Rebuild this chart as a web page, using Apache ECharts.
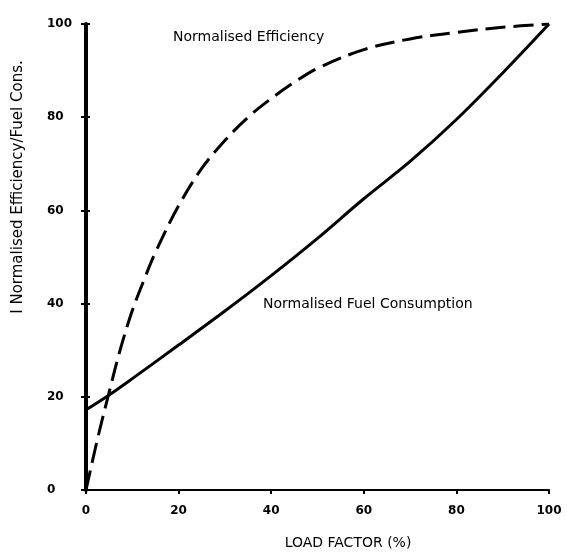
<!DOCTYPE html>
<html>
<head>
<meta charset="utf-8">
<script src="https://cdn.jsdelivr.net/npm/echarts@6/dist/echarts.min.js"></script>
<style>
  html, body { margin: 0; padding: 0; background: #fff; }
  #chart { width: 567px; height: 554px; }
</style>
</head>
<body>
<div id="chart"></div>
<script>
  // load factor (%) vs normalised values
  var effLoad = [0, 2.5, 5, 7.5, 10, 12.5, 15, 20, 25, 30, 35, 40, 45, 50, 60, 70, 80, 90, 100];
  var efficiency = [0, 11, 21, 30.5, 38.5, 45, 51, 61, 69, 75, 80, 84, 87.5, 90.5, 94.5, 96.8, 98.2, 99.3, 100];

  var fuelLoad = [0, 5, 10, 20, 30, 40, 50, 60, 70, 80, 90, 100];
  var fuelCons = [17.2, 20.4, 23.9, 31.1, 38.4, 46, 54, 62.5, 70.5, 79.5, 89.5, 100];

  var tickMin = 0, tickMax = 100, tickStep = 20;

  function pairs(xs, ys) {
    return xs.map(function (x, i) { return [x, ys[i]]; });
  }

  var font = '"DejaVu Sans", Verdana, sans-serif';
  var chart = echarts.init(document.getElementById('chart'), null, { renderer: 'canvas' });

  var baseX = {
    type: 'value', min: tickMin, max: tickMax, interval: tickStep,
    splitLine: { show: false }
  };
  var baseY = {
    type: 'value', min: tickMin, max: tickMax, interval: tickStep,
    splitLine: { show: false }
  };

  chart.setOption({
    backgroundColor: '#fff',
    animation: false,
    grid: { left: 86, right: 18, top: 24, bottom: 64 },
    xAxis: [
      Object.assign({}, baseX, {
        axisLine: { lineStyle: { color: '#000', width: 2 } },
        axisTick: { length: 4, lineStyle: { color: '#000', width: 2 } },
        axisLabel: { color: '#000', fontFamily: font, fontSize: 12, fontWeight: 'bold', margin: 15 }
      }),
      Object.assign({}, baseX, {
        axisLine: { show: false },
        axisTick: { inside: true, length: 4, lineStyle: { color: '#000', width: 2 } },
        axisLabel: { show: false }
      })
    ],
    yAxis: [
      Object.assign({}, baseY, {
        axisLine: { lineStyle: { color: '#000', width: 4 } },
        axisTick: { length: 5, lineStyle: { color: '#000', width: 2 } },
        axisLabel: { color: '#000', fontFamily: font, fontSize: 12, fontWeight: 'bold', align: 'left', margin: 39 }
      }),
      Object.assign({}, baseY, {
        position: 'left',
        axisLine: { show: false },
        axisTick: { inside: true, length: 4, lineStyle: { color: '#000', width: 2 } },
        axisLabel: { show: false }
      })
    ],
    graphic: [
      {
        type: 'text', left: 173, top: 30,
        style: { text: 'Normalised Efficiency', font: '14px ' + font, fill: '#000' }
      },
      {
        type: 'text', left: 263, top: 297,
        style: { text: 'Normalised Fuel Consumption', font: '14px ' + font, fill: '#000' }
      },
      {
        type: 'text', x: 18, y: 187, rotation: Math.PI / 2,
        style: { text: 'I Normalised Efficiency/Fuel Cons.', font: '15px ' + font, fill: '#000',
                 align: 'center', verticalAlign: 'middle' }
      },
      {
        type: 'text', x: 348, y: 543,
        style: { text: 'LOAD FACTOR (%)', font: '14px ' + font, fill: '#000',
                 align: 'center', verticalAlign: 'middle' }
      }
    ],
    series: [
      {
        name: 'Normalised Efficiency',
        type: 'line',
        data: pairs(effLoad, efficiency),
        smooth: 0.35,
        showSymbol: false,
        lineStyle: { color: '#000', width: 3, type: [20, 8] }
      },
      {
        name: 'Normalised Fuel Consumption',
        type: 'line',
        data: pairs(fuelLoad, fuelCons),
        smooth: 0.35,
        showSymbol: false,
        lineStyle: { color: '#000', width: 3 }
      }
    ]
  });
</script>
</body>
</html>
